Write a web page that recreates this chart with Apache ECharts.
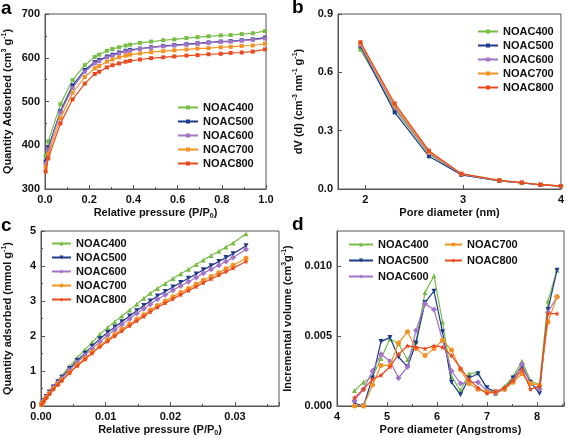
<!DOCTYPE html>
<html><head><meta charset="utf-8">
<script src="https://cdn.jsdelivr.net/npm/echarts@6/dist/echarts.min.js"></script>
<style>html,body{margin:0;padding:0;background:#fff}#c{width:567px;height:438px}</style>
</head><body><div id="c"></div>
<script>
// ---------- Panel a: N2 isotherms ----------
const aX = [0.003,0.015,0.07,0.125,0.18,0.225,0.245,0.28,0.305,0.335,0.365,0.385,0.43,0.48,0.535,0.585,0.64,0.69,0.74,0.795,0.84,0.89,0.94,0.995];
const a400 = [375,409,494,549,583,602,607,616,620,624,628,630,634,637,640,642,645,647,649,651,652,654,656,661];
const a500 = [363,395,478,537,572,590,595,603,607,612,616,618,621,624,627,629,631,633,635,637,638,640,642,646];
const a600 = [358,390,475,531,568,587,592,601,605,610,614,616,620,623,626,628,630,632,634,636,637,639,641,644];
const a700 = [350,380,462,520,556,576,581,591,596,601,605,607,610,613,615,617,619,621,622,624,625,627,628,632];
const a800 = [340,370,450,505,541,563,568,578,583,587,591,593,596,599,601,603,605,606,608,609,611,612,614,619];

// ---------- Panel b: pore size distribution ----------
const bX = [1.95,2.3,2.65,2.98,3.37,3.6,3.79,4.0];
const b400 = [0.716,0.41,0.18,0.075,0.043,0.032,0.022,0.015];
const b500 = [0.733,0.394,0.168,0.073,0.042,0.031,0.021,0.015];
const b600 = [0.740,0.42,0.185,0.076,0.043,0.032,0.022,0.015];
const b700 = [0.748,0.43,0.19,0.078,0.044,0.032,0.022,0.015];
const b800 = [0.755,0.44,0.197,0.079,0.045,0.033,0.022,0.016];

// ---------- Panel c: CO2 isotherms ----------
const cX = [0.0001,0.0004,0.0008,0.0013,0.0019,0.0026,0.0032,0.0044,0.0056,0.0068,0.0079,0.0091,0.0103,0.0114,0.0125,0.0137,0.0148,0.0159,0.0169,0.018,0.0192,0.0204,0.0216,0.0228,0.024,0.0251,0.0263,0.0275,0.0286,0.0297,0.0317];
const c400 = [0.05,0.15,0.27,0.41,0.56,0.72,0.86,1.13,1.38,1.61,1.82,2.05,2.24,2.41,2.57,2.74,2.91,3.08,3.22,3.36,3.5,3.64,3.78,3.91,4.04,4.17,4.3,4.42,4.54,4.66,4.92];
const c500 = [0.05,0.15,0.27,0.4,0.54,0.69,0.82,1.07,1.3,1.51,1.71,1.92,2.1,2.26,2.41,2.57,2.72,2.87,3.0,3.14,3.27,3.4,3.53,3.65,3.77,3.89,4.01,4.13,4.24,4.35,4.58];
const c600 = [0.05,0.14,0.26,0.38,0.52,0.67,0.79,1.03,1.25,1.45,1.64,1.84,2.02,2.18,2.33,2.49,2.64,2.78,2.91,3.05,3.18,3.31,3.43,3.55,3.67,3.79,3.91,4.02,4.13,4.24,4.48];
const c700 = [0.04,0.13,0.24,0.36,0.49,0.62,0.74,0.96,1.17,1.36,1.54,1.72,1.89,2.04,2.19,2.34,2.48,2.61,2.74,2.87,3.0,3.12,3.24,3.36,3.48,3.59,3.7,3.81,3.92,4.02,4.22];
const c800 = [0.04,0.13,0.23,0.35,0.48,0.61,0.72,0.94,1.15,1.33,1.51,1.69,1.85,2.0,2.14,2.29,2.43,2.56,2.69,2.82,2.94,3.06,3.18,3.3,3.41,3.52,3.63,3.74,3.84,3.94,4.13];

// ---------- Panel d: micropore distribution ----------
const dX = [4.35,4.53,4.71,4.88,5.06,5.23,5.41,5.58,5.76,5.94,6.11,6.29,6.47,6.64,6.82,7.0,7.17,7.35,7.52,7.7,7.87,8.05,8.22,8.4];
const d400 = [0.0011,0.0017,0.0021,0.0034,0.0048,0.00445,0.0033,0.0046,0.0081,0.0093,0.006,0.0021,0.0011,0.0023,0.0024,0.0012,0.0009,0.0014,0.0021,0.0032,0.0018,0.0015,0.0075,0.0097];
const d500 = [0.0002,0.0,0.002,0.0046,0.0049,0.0035,0.0028,0.0045,0.0074,0.0082,0.0053,0.0017,0.0008,0.002,0.0023,0.0013,0.001,0.0012,0.002,0.0028,0.0017,0.0009,0.0069,0.0097];
const d600 = [0.0004,0.0012,0.0025,0.0037,0.0032,0.002,0.0028,0.0054,0.0073,0.0069,0.0047,0.0025,0.0016,0.0017,0.0017,0.0011,0.0009,0.0012,0.0018,0.003,0.0016,0.0012,0.0067,0.0078];
const d700 = [0.0,0.0,0.0015,0.0029,0.0029,0.0045,0.0053,0.0041,0.0036,0.0041,0.0047,0.004,0.0026,0.0016,0.0012,0.001,0.001,0.0012,0.0017,0.0023,0.0016,0.0015,0.006,0.0078];
const d800 = [0.0006,0.0012,0.0019,0.0022,0.0028,0.0037,0.0043,0.0042,0.0041,0.0043,0.0042,0.0036,0.0027,0.0019,0.0013,0.0009,0.001,0.0013,0.0018,0.0026,0.0012,0.0014,0.0066,0.0066];

const names = ['NOAC400','NOAC500','NOAC600','NOAC700','NOAC800'];
const colors = ['#76bd45','#1e3a8a','#a273c6','#f39121','#e8491f'];

const FONT = '"Liberation Sans", Arial, sans-serif';
const AX = '#555';
const STAR = 'path://M0,-10L2.9,-4L9.5,-3.1L4.7,1.5L5.9,8.1L0,5L-5.9,8.1L-4.7,1.5L-9.5,-3.1L-2.9,-4Z';

const zip = (xs, ys) => xs.map((x, i) => [x, ys[i]]);

const nameStyle = {
  fontSize: 11, fontWeight: 'bold', color: '#111', fontFamily: FONT, lineHeight: 14,
  rich: {
    sup: {fontSize: 7, fontWeight: 'bold', color: '#111', fontFamily: FONT, verticalAlign: 'top', lineHeight: 8},
    sub: {fontSize: 7, fontWeight: 'bold', color: '#111', fontFamily: FONT, verticalAlign: 'bottom', lineHeight: 8}
  }
};

function axis(gi, o) {
  return Object.assign({
    type: 'value', gridIndex: gi, nameLocation: 'middle',
    nameTextStyle: nameStyle,
    axisLine: {show: true, onZero: false, lineStyle: {color: AX, width: 1}},
    axisTick: {show: true, inside: true, length: 4, lineStyle: {color: AX}},
    minorTick: {show: true, splitNumber: 2, length: 2, lineStyle: {color: AX}},
    splitLine: {show: false},
    axisLabel: {color: '#111', fontWeight: 'bold', fontSize: 11, fontFamily: FONT, margin: 5}
  }, o);
}

function series(prefix, gi, xs, ys, i, symbol, size, extra) {
  return Object.assign({
    type: 'line', name: prefix + ':' + names[i], xAxisIndex: gi, yAxisIndex: gi,
    data: zip(xs, ys), symbol: symbol, symbolSize: size, showSymbol: true,
    lineStyle: {color: colors[i], width: 1.2}, itemStyle: {color: colors[i]},
    animation: false, z: 2 + i
  }, extra || {});
}

function legend(prefix, idxs, left, top, iw, gap) {
  return {
    data: idxs.map(i => prefix + ':' + names[i]), left: left, top: top, orient: 'vertical',
    itemWidth: iw, itemHeight: 5, itemGap: gap, padding: 0, selectedMode: false,
    textStyle: {fontSize: 11, fontWeight: 'bold', color: '#111', fontFamily: FONT},
    formatter: n => n.split(':')[1]
  };
}

const aSeries = [a400,a500,a600,a700,a800].map((d, i) => series('a', 0, aX, d, i, 'rect', 4));
const bSeries = [b400,b500,b600,b700,b800].map((d, i) => series('b', 1, bX, d, i, 'rect', 4));
const cSym = [['triangle',5,0],['triangle',5,180],['diamond',6,0],['circle',5,0],[STAR,5,0]];
const cSeries = [c400,c500,c600,c700,c800].map((d, i) => series('c', 2, cX, d, i, cSym[i][0], cSym[i][1], {symbolRotate: cSym[i][2]}));
const dSeries = [d400,d500,d600,d700,d800].map((d, i) => series('d', 3, dX, d, i, cSym[i][0], cSym[i][1], {symbolRotate: cSym[i][2]}));

const option = {
  backgroundColor: '#fff',
  animation: false,
  textStyle: {fontFamily: FONT},
  grid: [
    {left: 40, top: 14, width: 226, height: 175, show: true, borderColor: AX, borderWidth: 1},
    {left: 338, top: 14, width: 225, height: 175, show: true, borderColor: AX, borderWidth: 1},
    {left: 40, top: 231, width: 239, height: 175, show: true, borderColor: AX, borderWidth: 1},
    {left: 337, top: 231, width: 227, height: 175, show: true, borderColor: AX, borderWidth: 1}
  ],
  xAxis: [
    axis(0, {min: 0, max: 1, interval: 0.2, name: 'Relative pressure (P/P{sub|0})', nameGap: 16,
      axisLabel: Object.assign({}, axis(0).axisLabel, {formatter: v => v.toFixed(1)})}),
    axis(1, {min: 1.72, max: 4, name: 'Pore diameter (nm)', nameGap: 16,
      axisTick: {show: true, inside: true, length: 4, lineStyle: {color: AX}, customValues: [2,3,4]},
      minorTick: {show: false},
      axisLabel: Object.assign({}, axis(1).axisLabel, {customValues: [2,3,4]})}),
    axis(2, {min: 0, max: 0.0368, interval: 0.01, name: 'Relative pressure (P/P{sub|0})', nameGap: 16,
      axisLabel: Object.assign({}, axis(2).axisLabel, {showMaxLabel: false, formatter: v => v.toFixed(2)})}),
    axis(3, {min: 4, max: 8.54, interval: 1, name: 'Pore diameter (Angstroms)', nameGap: 16,
      axisLabel: Object.assign({}, axis(3).axisLabel, {showMaxLabel: false})})
  ],
  yAxis: [
    axis(0, {min: 300, max: 700, interval: 100, name: 'Quantity Adsorbed (cm{sup|3} g{sup|-1})', nameGap: 30}),
    axis(1, {min: 0, max: 0.9, interval: 0.3, name: 'dV (d) (cm{sup|-3} nm{sup|-1} g{sup|-1})', nameGap: 32,
      minorTick: {show: false},
      axisLabel: Object.assign({}, axis(1).axisLabel, {formatter: v => v.toFixed(1)})}),
    axis(2, {min: 0, max: 5, interval: 1, name: 'Quantity adsorbed (mmol g{sup|-1})', nameGap: 26}),
    axis(3, {min: 0, max: 0.0125, interval: 0.005, name: 'Incremental volume (cm{sup|3}g{sup|-1})', nameGap: 42,
      minorTick: {show: false},
      axisLabel: Object.assign({}, axis(3).axisLabel, {showMaxLabel: false, formatter: v => v.toFixed(3)})})
  ],
  legend: [
    legend('a', [0,1,2,3,4], 177, 102, 20, 3),
    legend('b', [0,1,2,3,4], 477, 26, 20, 3),
    legend('c', [0,1,2,3,4], 51, 238, 19, 3),
    legend('d', [0,1,2], 348, 239, 24, 5),
    legend('d', [3,4], 444, 239, 17, 5)
  ],
  graphic: [
    {type: 'text', left: 1, top: -1, style: {text: 'a', font: 'bold 19px ' + FONT, fill: '#000'}},
    {type: 'text', left: 292, top: -2, style: {text: 'b', font: 'bold 19px ' + FONT, fill: '#000'}},
    {type: 'text', left: 1, top: 216, style: {text: 'c', font: 'bold 19px ' + FONT, fill: '#000'}},
    {type: 'text', left: 292, top: 215, style: {text: 'd', font: 'bold 19px ' + FONT, fill: '#000'}}
  ],
  series: [].concat(aSeries, bSeries, cSeries, dSeries)
};

const chart = echarts.init(document.getElementById('c'), null, {renderer: 'canvas'});
chart.setOption(option);
</script>
</body></html>
